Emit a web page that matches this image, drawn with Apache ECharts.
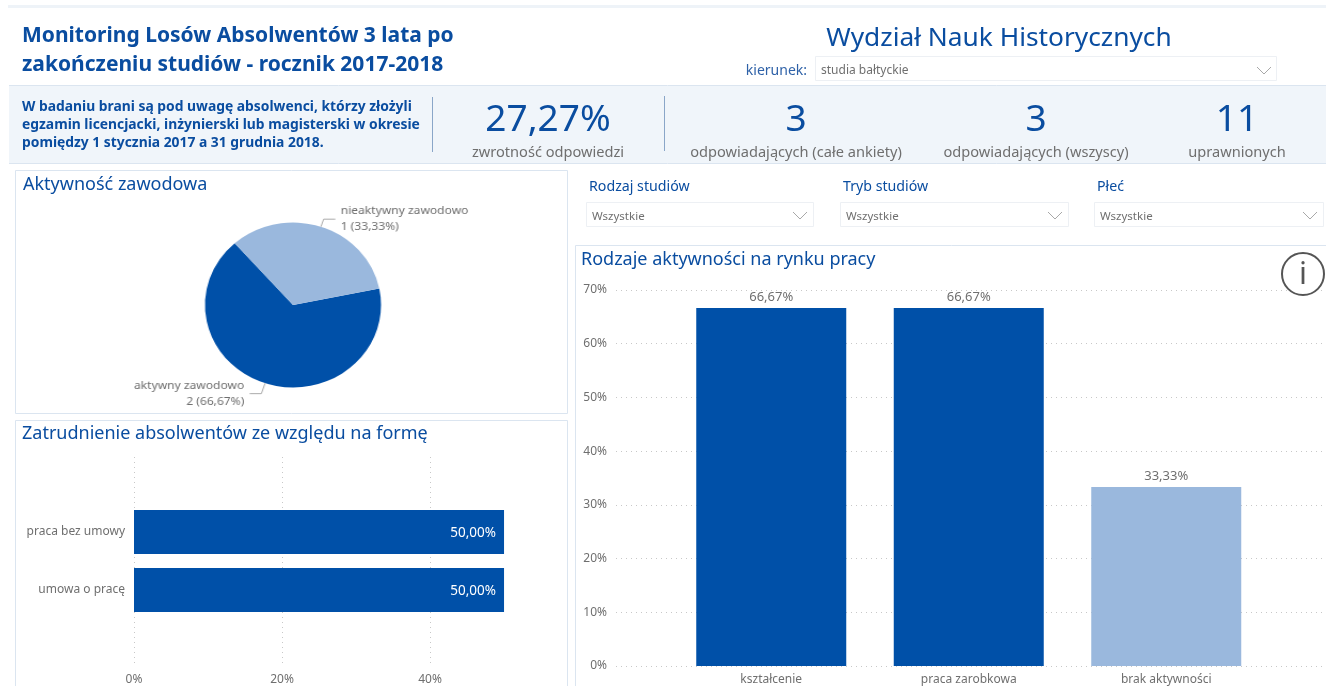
<!DOCTYPE html>
<html lang="pl">
<head>
<meta charset="utf-8">
<style>
html,body{margin:0;padding:0;background:#fff;overflow:hidden}
#main{position:absolute;left:0;top:0;width:1326px;height:686px}
#pie{position:absolute;left:100px;top:190px;width:386px;height:222px;transform-origin:193px 115px;transform:scaleX(1.067)}
</style>
<script src="https://cdn.jsdelivr.net/npm/echarts@6/dist/echarts.min.js"></script>
</head>
<body>
<div id="main"></div>
<div id="pie"></div>
<script>
var pieNames = ['aktywny zawodowo', 'nieaktywny zawodowo'];
var pieValues = [2, 1];
var piePercents = ['66,67%', '33,33%'];
var formCategories = ['praca bez umowy', 'umowa o pracę'];
var formValues = [50, 50];
var activityCategories = ['kształcenie', 'praca zarobkowa', 'brak aktywności'];
var activityValues = [66.67, 66.67, 33.33];
var activityHighlight = [true, true, false];
var kpiValues = ['27,27%', '3', '3', '11'];
var kpiLabels = ['zwrotność odpowiedzi', 'odpowiadających (całe ankiety)', 'odpowiadających (wszyscy)', 'uprawnionych'];
var kpiCenters = [548, 796, 1036, 1237];
var filterNames = ['Rodzaj studiów', 'Tryb studiów', 'Płeć'];
var filterValue = 'Wszystkie';

var BLUE = '#0050a8', LIGHT = '#9ab8dd', TITLE = '#0a4da0', GREY = '#6f6f6f', EDGE = '#dbe5f0', GRID = '#c8c8c8';
var FONT = '"Noto Sans", "Open Sans", sans-serif';

function fmt(v) { return v.toFixed(2).replace('.', ',') + '%'; }
function txt(x, y, s, size, color, align, weight) {
  return { type: 'text', z: 5, style: { x: x, y: y, text: s, fontSize: size, fill: color, align: align || 'left',
    verticalAlign: 'middle', fontFamily: FONT, fontWeight: weight || 'normal' } };
}
function box(x, y, w, h, fill, stroke) {
  return { type: 'rect', z: 0, shape: { x: x, y: y, width: w, height: h },
    style: { fill: fill || 'none', stroke: stroke || EDGE, lineWidth: 1 } };
}
function chevron(x, y) {
  return { type: 'polyline', z: 5, shape: { points: [[x, y], [x + 7, y + 7], [x + 14, y]] },
    style: { fill: 'none', stroke: '#a8a8a8', lineWidth: 1 } };
}
function vline(x, y1, y2) {
  return { type: 'line', z: 5, shape: { x1: x, y1: y1, x2: x, y2: y2 }, style: { stroke: '#8aa6c8', lineWidth: 1 } };
}
function hline(x1, x2, y) {
  return { type: 'line', z: 1, shape: { x1: x1, y1: y, x2: x2, y2: y }, style: { stroke: EDGE, lineWidth: 1 } };
}

var g = [];
g.push({ type: 'rect', z: 0, shape: { x: 8, y: 5, width: 1318, height: 3 }, style: { fill: '#eef3f8' } });
g.push({ type: 'rect', z: 0, shape: { x: 9, y: 86, width: 1317, height: 77 }, style: { fill: '#f0f5fa' } });
g.push(hline(9, 1326, 85.5), hline(9, 1326, 163.5));
g.push(txt(22, 36, 'Monitoring Losów Absolwentów 3 lata po', 21, TITLE, 'left', 'bold'));
g.push(txt(22, 65, 'zakończeniu studiów - rocznik 2017-2018', 21, TITLE, 'left', 'bold'));
g.push(txt(999, 39, 'Wydział Nauk Historycznych', 26.3, TITLE, 'center'));
g.push(txt(807, 71.5, 'kierunek:', 14, '#2f62a8', 'right'));
g.push(box(815.5, 56.5, 461, 24, '#fff', '#edf0f4'));
g.push(txt(821, 71, 'studia bałtyckie', 12, GREY));
g.push(chevron(1257, 67));
g.push(txt(22, 107, 'W badaniu brani są pod uwagę absolwenci, którzy złożyli', 13.85, TITLE, 'left', 'bold'));
g.push(txt(22, 125, 'egzamin licencjacki, inżynierski lub magisterski w okresie', 13.85, TITLE, 'left', 'bold'));
g.push(txt(22, 143, 'pomiędzy 1 stycznia 2017 a 31 grudnia 2018.', 13.85, TITLE, 'left', 'bold'));
g.push(vline(432.5, 97, 152), vline(664.5, 96, 151));
kpiValues.forEach(function (v, i) {
  g.push(txt(kpiCenters[i], 120, v, 37, TITLE, 'center'));
  g.push(txt(kpiCenters[i], 153, kpiLabels[i], 14.6, GREY, 'center'));
});
g.push(box(15.5, 170.5, 552, 243));
g.push(txt(23, 185, 'Aktywność zawodowa', 18, TITLE));
g.push(box(15.5, 420.5, 552, 280));
g.push(txt(22, 434, 'Zatrudnienie absolwentów ze względu na formę', 18, TITLE));
g.push(box(575.5, 245.5, 760, 460));
g.push(txt(581, 260, 'Rodzaje aktywności na rynku pracy', 18, TITLE));
[[586, 227], [840, 228], [1094, 229]].forEach(function (p, i) {
  g.push(txt(p[0] + 3, 187, filterNames[i], 14.2, TITLE));
  g.push(box(p[0] + 0.5, 202.5, p[1], 24, '#fff', '#edf0f4'));
  g.push(txt(p[0] + 6, 217, filterValue, 11.5, GREY));
  g.push(chevron(p[0] + p[1] - 20, 212));
});
g.push({ type: 'circle', z: 6, shape: { cx: 1303, cy: 274, r: 21 }, style: { fill: '#fff', stroke: '#555', lineWidth: 2 } });
g.push({ type: 'text', z: 7, style: { x: 1303, y: 275, text: 'i', fontSize: 31, fill: '#555', align: 'center', verticalAlign: 'middle', fontFamily: FONT } });

var axisText = { color: GREY, fontSize: 12, fontFamily: FONT };
var dots = { type: [1, 4], color: GRID, width: 1 };
var main = echarts.init(document.getElementById('main'), null, { renderer: 'canvas' });
main.setOption({
  animation: false,
  backgroundColor: '#fff',
  graphic: g,
  grid: [
    { left: 134, top: 457, width: 410, height: 210 },
    { left: 134, top: 503, width: 410, height: 116 },
    { left: 616, top: 290, width: 706, height: 376 },
    { left: 672.5, top: 290, width: 592.5, height: 376 }
  ],
  xAxis: [
    { gridIndex: 0, type: 'value', min: 0, max: 55.4, interval: 20, axisLine: { show: false }, axisTick: { show: false },
      splitLine: { show: true, showMaxLine: false, lineStyle: dots },
      axisLabel: Object.assign({}, axisText, { margin: 8, showMaxLabel: false, formatter: '{value}%' }) },
    { gridIndex: 1, type: 'value', min: 0, max: 55.4, show: false, splitLine: { show: false } },
    { gridIndex: 2, type: 'category', data: activityCategories, show: false },
    { gridIndex: 3, type: 'category', data: activityCategories, axisLine: { show: false }, axisTick: { show: false },
      axisLabel: Object.assign({}, axisText, { fontSize: 12, margin: 8 }) }
  ],
  yAxis: [
    { gridIndex: 0, type: 'category', data: formCategories, show: false },
    { gridIndex: 1, type: 'category', inverse: true, data: formCategories, axisLine: { show: false }, axisTick: { show: false },
      axisLabel: Object.assign({}, axisText, { margin: 9, padding: [6, 0, 0, 0] }) },
    { gridIndex: 2, type: 'value', min: 0, max: 70, interval: 10, splitLine: { show: true, lineStyle: dots }, axisLine: { show: false }, axisTick: { show: false },
      axisLabel: Object.assign({}, axisText, { margin: 9, padding: [5, 0, 0, 0], formatter: '{value}%' }) },
    { gridIndex: 3, type: 'value', min: 0, max: 70, interval: 10, show: false, splitLine: { show: false } }
  ],
  series: [
    { type: 'bar', xAxisIndex: 1, yAxisIndex: 1, data: formValues, barWidth: 44, itemStyle: { color: BLUE },
      label: { show: true, position: 'insideRight', distance: 8, offset: [0, 1], color: '#fff', fontSize: 13.5, fontFamily: FONT, formatter: function (p) { return fmt(p.value); } } },
    { type: 'bar', xAxisIndex: 3, yAxisIndex: 3, barWidth: 150,
      data: activityValues.map(function (v, i) { return { value: v, itemStyle: { color: activityHighlight[i] ? BLUE : LIGHT } }; }),
      label: { show: true, position: 'top', distance: 4, color: GREY, fontSize: 13, fontFamily: FONT, formatter: function (p) { return fmt(p.value); } } }
  ]
});

var pie = echarts.init(document.getElementById('pie'), null, { renderer: 'canvas' });
pie.setOption({
  animation: false,
  series: [{
    type: 'pie', center: [193, 115], radius: [0, 82.5], startAngle: 11.5, clockwise: true,
    avoidLabelOverlap: false,
    data: pieNames.map(function (n, i) {
      return { name: n, value: pieValues[i], itemStyle: { color: i === 0 ? BLUE : LIGHT }, labelLine: { length: i === 0 ? 11 : 8 } };
    }),
    label: { show: true, color: GREY, fontSize: 11.3, lineHeight: 16, fontFamily: FONT,
      formatter: function (p) { return p.name + '\n' + p.value + ' (' + piePercents[p.dataIndex] + ')'; } },
    labelLine: { show: true, length: 8, length2: 11, lineStyle: { color: '#aaaaaa', width: 1 } }
  }]
});
</script>
</body>
</html>
